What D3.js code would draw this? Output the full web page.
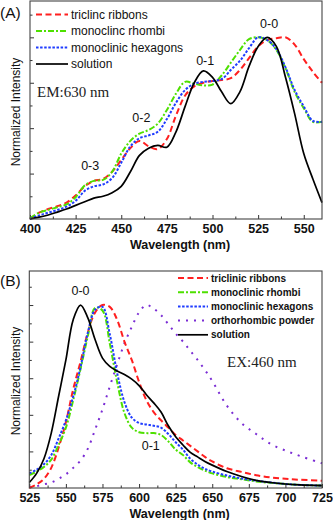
<!DOCTYPE html>
<html>
<head>
<meta charset="utf-8">
<script src="https://cdn.jsdelivr.net/npm/d3@7"></script>
<style>
  html, body { margin: 0; padding: 0; background: #fff; }
  svg { display: block; }
</style>
</head>
<body>
<div id="spectra"></div>
<script>
// -------------------- DATA (A) excitation, EM:630 nm --------------------
const WAVE_A = [400, 405, 410, 415, 420, 425, 430, 435, 440, 445, 450, 455, 460, 465, 470, 475,
                480, 485, 490, 495, 500, 505, 510, 515, 520, 525, 530, 535, 540, 545, 550, 555, 560];
const TRICLINIC_A = [0.0, 0.035, 0.055, 0.07, 0.09, 0.13, 0.18, 0.21, 0.22, 0.26, 0.325, 0.39, 0.43, 0.40, 0.385, 0.44,
                     0.57, 0.68, 0.73, 0.75, 0.76, 0.765, 0.775, 0.82, 0.885, 0.95, 0.985, 0.995, 1.0, 0.96, 0.88, 0.81, 0.75];
const RHOMBI_A = [0.005, 0.035, 0.05, 0.065, 0.08, 0.12, 0.185, 0.21, 0.215, 0.26, 0.36, 0.43, 0.47, 0.49, 0.525, 0.60,
                  0.69, 0.755, 0.745, 0.735, 0.74, 0.79, 0.86, 0.93, 0.99, 1.0, 0.985, 0.93, 0.83, 0.70, 0.61, 0.535, 0.535];
const HEXAGONS_A = [0.0, 0.02, 0.035, 0.05, 0.068, 0.10, 0.155, 0.18, 0.19, 0.225, 0.31, 0.40, 0.445, 0.46, 0.48, 0.55,
                    0.64, 0.71, 0.745, 0.755, 0.76, 0.77, 0.82, 0.87, 0.94, 1.0, 0.985, 0.935, 0.835, 0.71, 0.62, 0.54, 0.535];
const SOLUTION_A = [0.0, 0.01, 0.022, 0.038, 0.055, 0.075, 0.095, 0.115, 0.125, 0.145, 0.18, 0.26, 0.35, 0.39, 0.405, 0.395,
                    0.48, 0.62, 0.75, 0.815, 0.78, 0.70, 0.635, 0.70, 0.84, 0.95, 1.0, 0.95, 0.78, 0.58, 0.36, 0.22, 0.09];

// -------------------- DATA (B) emission, EX:460 nm --------------------
const WAVE_B = [525, 530, 535, 540, 545, 550, 555, 560, 565, 570, 575, 580, 585, 590, 595, 600, 605, 610,
                615, 620, 625, 630, 635, 640, 645, 650, 660, 670, 680, 690, 700, 710, 725];
const TRICLINIC_B = [0.0, 0.02, 0.05, 0.11, 0.22, 0.36, 0.54, 0.69, 0.85, 0.96, 1.0, 0.99, 0.92, 0.80, 0.70, 0.58, 0.48, 0.415,
                     0.37, 0.33, 0.29, 0.26, 0.23, 0.20, 0.17, 0.145, 0.108, 0.088, 0.07, 0.058, 0.05, 0.045, 0.04];
const RHOMBI_B = [0.07, 0.09, 0.115, 0.155, 0.235, 0.33, 0.48, 0.65, 0.83, 0.985, 0.97, 0.79, 0.58, 0.41, 0.33, 0.305, 0.30, 0.30,
                  0.29, 0.255, 0.21, 0.18, 0.14, 0.115, 0.095, 0.08, 0.06, 0.048, 0.036, 0.028, 0.022, 0.017, 0.013];
const HEXAGONS_B = [0.08, 0.10, 0.13, 0.18, 0.27, 0.37, 0.50, 0.66, 0.85, 0.975, 0.99, 0.84, 0.63, 0.47, 0.385, 0.355, 0.347, 0.34,
                    0.33, 0.295, 0.25, 0.21, 0.16, 0.128, 0.105, 0.09, 0.068, 0.052, 0.04, 0.03, 0.022, 0.017, 0.013];
const POWDER_B = [0.005, 0.01, 0.02, 0.03, 0.05, 0.075, 0.11, 0.15, 0.215, 0.32, 0.43, 0.555, 0.675, 0.79, 0.88, 0.96, 1.0, 0.98,
                  0.945, 0.895, 0.845, 0.80, 0.75, 0.70, 0.645, 0.585, 0.45, 0.355, 0.295, 0.24, 0.205, 0.175, 0.135];
const SOLUTION_B = [0.03, 0.08, 0.16, 0.30, 0.50, 0.70, 0.92, 1.0, 0.93, 0.81, 0.71, 0.665, 0.64, 0.62, 0.595, 0.56, 0.51, 0.465,
                    0.415, 0.34, 0.28, 0.235, 0.195, 0.17, 0.145, 0.125, 0.09, 0.063, 0.042, 0.03, 0.022, 0.017, 0.013];

// -------------------- TICKS / LABELS --------------------
const X_TICKS_A = [400, 425, 450, 475, 500, 525, 550];
const X_MINOR_A = [412.5, 437.5, 462.5, 487.5, 512.5, 537.5];
const X_TICKS_B = [525, 550, 575, 600, 625, 650, 675, 700, 725];
const X_MINOR_B = [537.5, 562.5, 587.5, 612.5, 637.5, 662.5, 687.5, 712.5];
const Y_TICKS_A = [0.25, 0.5, 0.75, 1.0];
const Y_MINOR_A = [0.125, 0.375, 0.625, 0.875, 1.125];
const Y_TICKS_B = [0.2, 0.4, 0.6, 0.8, 1.0];
const Y_MINOR_B = [0.1, 0.3, 0.5, 0.7, 0.9, 1.1];

const PEAKS_A = [["0-0", 531], ["0-1", 496], ["0-2", 461], ["0-3", 433]];
const PEAKS_B = [["0-0", 560], ["0-1", 608]];

const STYLE = {
  triclinic: { color: "#ff1f1f", dash: "6,3.5", width: 2 },
  rhombi:    { color: "#4ee000", dash: "6,2,2,2", width: 2 },
  hexagons:  { color: "#1f3cff", dash: "2.5,1.6", width: 2 },
  powder:    { color: "#7a2cd4", dash: "2,6", width: 2 },
  solution:  { color: "#000000", dash: null, width: 1.7 }
};

const svg = d3.select("#spectra")
  .append("svg")
  .attr("width", 333)
  .attr("height", 520)
  .style("font-family", "Arial, 'Liberation Sans', sans-serif");

function drawPanel(p) {
  const x = d3.scaleLinear().domain(p.xDomain).range([p.left, p.right]);
  const y = d3.scaleLinear().domain(p.yDomain).range([p.bottom, p.top]);
  const g = svg.append("g");

  /* -------------------- AXES -------------------- */
  g.append("g")
    .attr("transform", `translate(0, ${p.bottom})`)
    .call(d3.axisBottom(x).tickValues(p.xTicks).tickSize(-4).tickPadding(p.tickPad))
    .call(a => a.select(".domain").remove())
    .call(a => a.selectAll("text").attr("font-size", 12.5).attr("font-weight", "bold").attr("fill", "#111"));

  g.append("g")
    .attr("transform", `translate(0, ${p.bottom})`)
    .call(d3.axisBottom(x).tickValues(p.xMinor).tickSize(-2.5).tickFormat(""))
    .call(a => a.select(".domain").remove());

  g.append("g")
    .attr("transform", `translate(${p.left}, 0)`)
    .call(d3.axisLeft(y).tickValues(p.yTicks).tickSize(-4).tickFormat(""))
    .call(a => a.select(".domain").remove());

  g.append("g")
    .attr("transform", `translate(${p.left}, 0)`)
    .call(d3.axisLeft(y).tickValues(p.yMinor).tickSize(-2.5).tickFormat(""))
    .call(a => a.select(".domain").remove());

  g.selectAll(".tick line").attr("stroke", "#333");

  /* -------------------- CURVES -------------------- */
  const line = d3.line()
    .x(d => x(d[0]))
    .y(d => y(d[1]))
    .curve(d3.curveCatmullRom.alpha(0.5));

  const plot = g.append("g");
  p.series.forEach(s => {
    const st = STYLE[s.key];
    plot.append("path")
      .datum(p.wave.map((w, i) => [w, s.values[i]]))
      .attr("fill", "none")
      .attr("stroke", st.color)
      .attr("stroke-width", st.width)
      .attr("stroke-dasharray", st.dash)
      .attr("d", line);
  });

  // frame
  g.append("rect")
    .attr("x", p.left).attr("y", p.top)
    .attr("width", p.right - p.left).attr("height", p.bottom - p.top)
    .attr("fill", "none").attr("stroke", "#444").attr("stroke-width", 1.1);

  /* -------------------- LEGEND -------------------- */
  const leg = g.append("g");
  p.legendOrder.forEach((s, i) => {
    const st = STYLE[s.key];
    const ly = p.legend.y + i * p.legend.step;
    leg.append("line")
      .attr("x1", p.legend.x1).attr("x2", p.legend.x2)
      .attr("y1", ly).attr("y2", ly)
      .attr("stroke", st.color)
      .attr("stroke-width", st.width)
      .attr("stroke-dasharray", st.dash);
    leg.append("text")
      .attr("x", p.legend.x2 + 3)
      .attr("y", ly + p.legend.size * 0.36)
      .attr("font-size", p.legend.size)
      .attr("font-weight", p.legend.weight)
      .attr("fill", "#111")
      .text(s.label);
  });

  /* -------------------- LABELS -------------------- */
  p.peaks.forEach(([t, w], i) => {
    g.append("text")
      .attr("x", x(w))
      .attr("y", p.peakY[i])
      .attr("text-anchor", "middle")
      .attr("font-size", 12.5)
      .attr("fill", "#111")
      .text(t);
  });

  g.append("text")
    .attr("x", p.note.x).attr("y", p.note.y)
    .attr("font-family", "'Liberation Serif', 'Times New Roman', serif")
    .attr("font-size", 15)
    .attr("fill", "#222")
    .text(p.note.text);

  g.append("text")
    .attr("x", 0).attr("y", p.tagY)
    .attr("font-size", 15.5)
    .attr("fill", "#111")
    .text(p.tag);

  g.append("text")
    .attr("x", (p.left + p.right) / 2 + 4)
    .attr("y", p.titleY)
    .attr("text-anchor", "middle")
    .attr("font-size", 12.5)
    .attr("font-weight", "bold")
    .attr("fill", "#111")
    .text("Wavelength (nm)");

  g.append("text")
    .attr("transform", `translate(20, ${p.yTitleMid}) rotate(-90)`)
    .attr("text-anchor", "middle")
    .attr("font-size", 12)
    .attr("fill", "#111")
    .text("Normalized Intensity");
}

drawPanel({
  tag: "(A)", tagY: 18,
  left: 30, right: 322, top: 1, bottom: 219,
  xDomain: [400, 560], yDomain: [0, 1.2],
  xTicks: X_TICKS_A, xMinor: X_MINOR_A, yTicks: Y_TICKS_A, yMinor: Y_MINOR_A,
  tickPad: 5.5, titleY: 249, yTitleMid: 112,
  wave: WAVE_A,
  series: [
    { key: "triclinic", values: TRICLINIC_A },
    { key: "rhombi", values: RHOMBI_A },
    { key: "hexagons", values: HEXAGONS_A },
    { key: "solution", values: SOLUTION_A }
  ],
  legendOrder: [
    { key: "triclinic", label: "triclinc ribbons" },
    { key: "rhombi", label: "monoclinc rhombi" },
    { key: "hexagons", label: "monoclinic hexagons" },
    { key: "solution", label: "solution" }
  ],
  legend: { x1: 36, x2: 68, y: 14.5, step: 16.5, size: 12, weight: "normal" },
  peaks: PEAKS_A, peakY: [28, 65, 122, 170],
  note: { x: 37, y: 97, text: "EM:630 nm" }
});

drawPanel({
  tag: "(B)", tagY: 286,
  left: 29.3, right: 322, top: 271, bottom: 488,
  xDomain: [525, 725], yDomain: [0, 1.186],
  xTicks: X_TICKS_B, xMinor: X_MINOR_B, yTicks: Y_TICKS_B, yMinor: Y_MINOR_B,
  tickPad: 5.5, titleY: 517.5, yTitleMid: 381,
  wave: WAVE_B,
  series: [
    { key: "powder", values: POWDER_B },
    { key: "triclinic", values: TRICLINIC_B },
    { key: "rhombi", values: RHOMBI_B },
    { key: "hexagons", values: HEXAGONS_B },
    { key: "solution", values: SOLUTION_B }
  ],
  legendOrder: [
    { key: "triclinic", label: "triclinic ribbons" },
    { key: "rhombi", label: "monoclinic rhombi" },
    { key: "hexagons", label: "monoclinic hexagons" },
    { key: "powder", label: "orthorhombic powder" },
    { key: "solution", label: "solution" }
  ],
  legend: { x1: 178, x2: 208, y: 278, step: 14.2, size: 10, weight: "bold" },
  peaks: PEAKS_B, peakY: [295, 450],
  note: { x: 227, y: 367, text: "EX:460 nm" }
});
</script>
</body>
</html>
